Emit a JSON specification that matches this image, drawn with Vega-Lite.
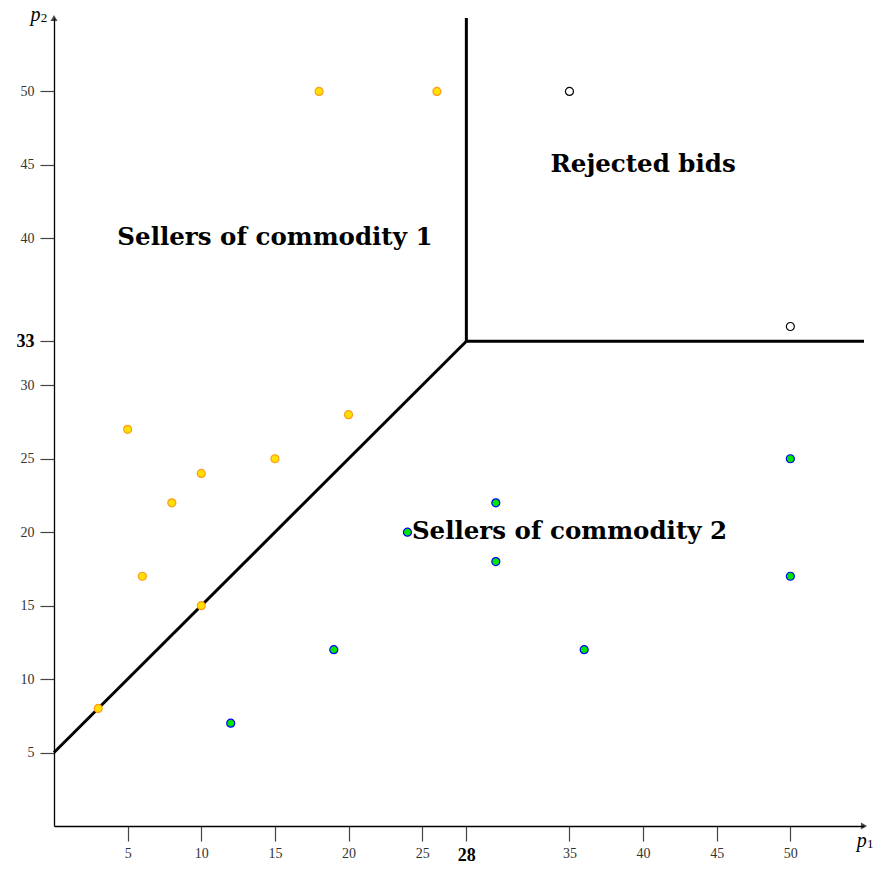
{
  "$schema": "https://vega.github.io/schema/vega-lite/v6.json",
  "width": 810,
  "height": 808,
  "autosize": {"type": "none"},
  "padding": {"left": 54, "top": 18, "right": 11, "bottom": 43},
  "background": "white",
  "config": {"view": {"stroke": null}},
  "layer": [
    {
      "data": {"values": [
        {"seg": "a", "p1": 0, "p2": 5}, {"seg": "a", "p1": 28, "p2": 33},
        {"seg": "b", "p1": 28, "p2": 33}, {"seg": "b", "p1": 55, "p2": 33},
        {"seg": "c", "p1": 28, "p2": 33}, {"seg": "c", "p1": 28, "p2": 55}
      ]},
      "mark": {"type": "line", "color": "black", "strokeWidth": 3, "clip": false},
      "encoding": {
        "x": {"field": "p1", "type": "quantitative",
          "scale": {"domain": [0, 55], "nice": false, "zero": false},
          "axis": {
            "title": null, "grid": false,
            "values": [5, 10, 15, 20, 25, 28, 35, 40, 45, 50],
            "domainColor": "black", "domainWidth": 1.3,
            "tickColor": "#444", "tickSize": 15, "tickWidth": 1.2,
            "labelFont": "Liberation Serif",
            "labelFontSize": {"condition": {"test": "datum.value == 28", "value": 18}, "value": 14},
            "labelFontWeight": {"condition": {"test": "datum.value == 28", "value": "bold"}, "value": "normal"},
            "labelColor": {"condition": {"test": "datum.value == 28", "value": "black"}, "value": "#333"},
            "labelPadding": 5
          }},
        "y": {"field": "p2", "type": "quantitative",
          "scale": {"domain": [0, 55], "nice": false, "zero": false},
          "axis": {
            "title": null, "grid": false,
            "values": [5, 10, 15, 20, 25, 30, 33, 40, 45, 50],
            "domainColor": "black", "domainWidth": 1.3,
            "tickColor": "#444", "tickSize": 14, "tickWidth": 1.2,
            "labelFont": "Liberation Serif",
            "labelFontSize": {"condition": {"test": "datum.value == 33", "value": 18}, "value": 14},
            "labelFontWeight": {"condition": {"test": "datum.value == 33", "value": "bold"}, "value": "normal"},
            "labelColor": {"condition": {"test": "datum.value == 33", "value": "black"}, "value": "#333"},
            "labelPadding": 6
          }},
        "detail": {"field": "seg"}
      }
    },
    {
      "data": {"values": [
        {"group": "c1", "p1": 18, "p2": 50}, {"group": "c1", "p1": 26, "p2": 50},
        {"group": "c1", "p1": 5, "p2": 27}, {"group": "c1", "p1": 20, "p2": 28},
        {"group": "c1", "p1": 8, "p2": 22}, {"group": "c1", "p1": 10, "p2": 24},
        {"group": "c1", "p1": 15, "p2": 25}, {"group": "c1", "p1": 6, "p2": 17},
        {"group": "c1", "p1": 10, "p2": 15}, {"group": "c1", "p1": 3, "p2": 8},
        {"group": "c2", "p1": 24, "p2": 20}, {"group": "c2", "p1": 30, "p2": 22},
        {"group": "c2", "p1": 30, "p2": 18}, {"group": "c2", "p1": 19, "p2": 12},
        {"group": "c2", "p1": 12, "p2": 7}, {"group": "c2", "p1": 36, "p2": 12},
        {"group": "c2", "p1": 50, "p2": 25}, {"group": "c2", "p1": 50, "p2": 17},
        {"group": "rej", "p1": 35, "p2": 50}, {"group": "rej", "p1": 50, "p2": 34}
      ]},
      "mark": {"type": "point", "filled": false, "size": 64, "strokeWidth": 1.2, "opacity": 1, "fillOpacity": 1},
      "encoding": {
        "x": {"field": "p1", "type": "quantitative"},
        "y": {"field": "p2", "type": "quantitative"},
        "fill": {"field": "group", "type": "nominal", "legend": null,
          "scale": {"domain": ["c1", "c2", "rej"], "range": ["#FFE000", "#00E600", "#FFFFFF"]}},
        "stroke": {"field": "group", "type": "nominal", "legend": null,
          "scale": {"domain": ["c1", "c2", "rej"], "range": ["#FF9A1A", "#0000FF", "#000000"]}}
      }
    },
    {
      "data": {"values": [
        {"label": "Sellers of commodity 1", "p1": 15, "p2": 40},
        {"label": "Rejected bids", "p1": 40, "p2": 45},
        {"label": "Sellers of commodity 2", "p1": 35, "p2": 20}
      ]},
      "mark": {"type": "text", "font": "DejaVu Serif", "fontWeight": "bold", "fontSize": 24.5, "color": "black", "align": "center", "baseline": "middle"},
      "encoding": {
        "x": {"field": "p1", "type": "quantitative"},
        "y": {"field": "p2", "type": "quantitative"},
        "text": {"field": "label"}
      }
    },
    {
      "data": {"values": [
        {"dir": "right", "p1": 55, "p2": 0},
        {"dir": "up", "p1": 0, "p2": 55}
      ]},
      "mark": {"type": "point", "filled": true, "color": "black", "size": 50, "clip": false},
      "encoding": {
        "x": {"field": "p1", "type": "quantitative"},
        "y": {"field": "p2", "type": "quantitative"},
        "shape": {"field": "dir", "type": "nominal", "legend": null,
          "scale": {"domain": ["right", "up"], "range": ["triangle-right", "triangle-up"]}}
      }
    },
    {
      "data": {"values": [
        {"t": "p", "p1": 54.5, "p2": -1},
        {"t": "p", "p1": -1.6, "p2": 55.2}
      ]},
      "mark": {"type": "text", "font": "Liberation Serif", "fontStyle": "italic", "fontSize": 20, "color": "black", "align": "left", "baseline": "middle", "clip": false},
      "encoding": {
        "x": {"field": "p1", "type": "quantitative"},
        "y": {"field": "p2", "type": "quantitative"},
        "text": {"field": "t"}
      }
    },
    {
      "data": {"values": [
        {"t": "1", "p1": 55.2, "p2": -1.2},
        {"t": "2", "p1": -0.9, "p2": 55.0}
      ]},
      "mark": {"type": "text", "font": "Liberation Serif", "fontSize": 13, "color": "black", "align": "left", "baseline": "middle", "clip": false},
      "encoding": {
        "x": {"field": "p1", "type": "quantitative"},
        "y": {"field": "p2", "type": "quantitative"},
        "text": {"field": "t"}
      }
    }
  ]
}
